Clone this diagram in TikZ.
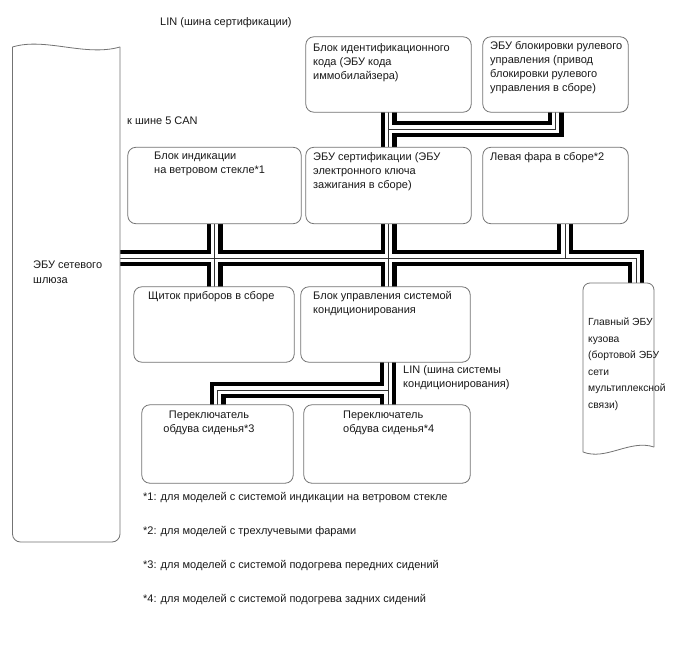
\documentclass[tikz,border=0pt]{standalone}
\usepackage{fontspec}
\setmainfont{Liberation Sans}
\tikzset{
  box/.style={draw=black!55, line width=0.8pt, fill=white, rounded corners=8pt, inner sep=0pt},
  anchorbox/.style={inner sep=0pt},
  txt/.style={font=\fontsize{11}{14}\selectfont, inner sep=0pt, align=left, anchor=north west, text=black!90},
  shapeline/.style={draw=black!55, line width=0.8pt, fill=white},
  busA/.style={line width=16pt, black, line join=miter, line cap=butt},
  busB/.style={line width=7.5pt, white, line join=miter, line cap=butt},
  busC/.style={line width=0.9pt, black!80, line join=miter, line cap=butt}
}
\newcommand\busnet[1]{%
  \draw[#1] (gw.east |- mR) -- (mR) -- (mR |- body.north);
  \draw[#1] (hud.south) -- (hud.south |- meter.north);
  \draw[#1] (cert.south) -- (cert.south |- ac.north);
  \draw[#1] (hx |- hl.south) -- (hx |- mR);
  \draw[#1] (id.south) -- (id.south |- cert.north);
  \draw[#1] (lt) -- (lt -| sl.south) -- (sl.south);
  \draw[#1] (la |- ac.south) -- (la |- sw4.north);
  \draw[#1] (la) -- (la -| sw3.north) -- (sw3.north);
}
\begin{document}
\begin{tikzpicture}[x=1pt,y=-1pt]
\fill[white] (0,0) rectangle (688,658);
\useasboundingbox (0,0) rectangle (688,658);

% anchor nodes for special shapes
\node[anchorbox, minimum width=107.5pt, minimum height=495pt] (gw) at (66.25,294.5) {};
\node[anchorbox, minimum width=71pt, minimum height=170pt] (body) at (618.5,368) {};

% boxes
\node[anchorbox, minimum width=165pt, minimum height=75pt] (id) at (388.5,74.5) {};
\node[anchorbox, minimum width=145pt, minimum height=75pt] (sl) at (555.5,74.5) {};
\node[anchorbox, minimum width=173pt, minimum height=76pt] (hud) at (214.5,185.5) {};
\node[anchorbox, minimum width=165pt, minimum height=76pt] (cert) at (388.5,185.5) {};
\node[anchorbox, minimum width=145pt, minimum height=76pt] (hl) at (555.5,185.5) {};
\node[anchorbox, minimum width=160pt, minimum height=75pt] (meter) at (214,324.5) {};
\node[anchorbox, minimum width=169pt, minimum height=75pt] (ac) at (385.5,324.5) {};
\node[anchorbox, minimum width=151pt, minimum height=78pt] (sw3) at (217.5,444) {};
\node[anchorbox, minimum width=166pt, minimum height=78pt] (sw4) at (387,444) {};

% junction coordinates
\coordinate (mR) at (636,258);
\coordinate (hx) at (565,0);
\coordinate (lt) at (388.5,129);
\coordinate (la) at (388,390);

% bus network (three layers)
\busnet{busA}
\busnet{busB}
\busnet{busC}

% box outlines
\foreach \n in {id,sl,hud,cert,hl,meter,ac,sw3,sw4}
  \draw[box] (\n.south west) rectangle (\n.north east);

% gateway ECU: wavy top, rounded bottom
\draw[shapeline, rounded corners=8pt] (120,47) -- (120,542) -- (12.5,542) -- (12.5,47);
\draw[draw=black!55, line width=0.8pt] (12.5,47) .. controls (45,37) and (85,57) .. (120,47);

% main body ECU: rounded top, wavy bottom
\draw[shapeline, rounded corners=7pt] (583,452) -- (583,283) -- (654,283) -- (654,447);
\draw[draw=black!55, line width=0.8pt] (654,447) .. controls (630,439) and (606,461) .. (583,452);

% texts
\node[txt] (tlin) at (160,17) {LIN (шина сертификации)};
\node[txt] (tcan) at (127,117) {к шине 5 CAN};
\node[txt] (tid) at (313,43) {Блок идентификационного\\кода (ЭБУ кода\\иммобилайзера)};
\node[txt] (tsl) at (490,41) {ЭБУ блокировки рулевого\\управления (привод\\блокировки рулевого\\управления в сборе)};
\node[txt] (thud) at (154,152) {Блок индикации\\на ветровом стекле*1};
\node[txt] (tcert) at (313,152) {ЭБУ сертификации (ЭБУ\\электронного ключа\\зажигания в сборе)};
\node[txt] (thl) at (490,152) {Левая фара в сборе*2};
\node[txt] (tmeter) at (148,291) {Щиток приборов в сборе};
\node[txt] (tac) at (313,291) {Блок управления системой\\кондиционирования};
\node[txt] (tlinac) at (403,365) {LIN (шина системы\\кондиционирования)};
\node[txt, align=center, anchor=north] (tsw3) at (209,411) {Переключатель\\обдува сиденья*3};
\node[txt] (tsw4) at (343,411) {Переключатель\\обдува сиденья*4};
\node[txt, font=\fontsize{10.3}{16.5}\selectfont] (tbody) at (588,318) {Главный ЭБУ\\кузова\\(бортовой ЭБУ\\сети\\мультиплексной\\связи)};
\node[txt, font=\fontsize{11}{15}\selectfont] (tgw) at (33,261) {ЭБУ сетевого\\шлюза};
\node[txt] (n1) at (143,492) {*1: для моделей с системой индикации на ветровом стекле};
\node[txt] (n2) at (143,526) {*2: для моделей с трехлучевыми фарами};
\node[txt] (n3) at (143,560) {*3: для моделей с системой подогрева передних сидений};
\node[txt] (n4) at (143,594) {*4: для моделей с системой подогрева задних сидений};
\end{tikzpicture}
\end{document}
